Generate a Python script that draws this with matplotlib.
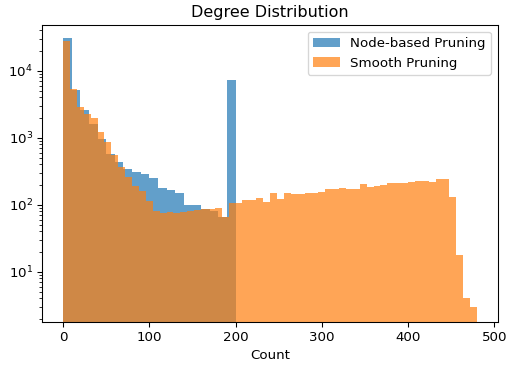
import numpy as np
import matplotlib
matplotlib.use("Agg")
import matplotlib.pyplot as plt

# Node-based pruning: bins of width 10 from 0 to 200
node_bin_edges = np.arange(0, 201, 10)
node_counts = [31000, 5200, 2600, 1600, 950, 580, 430, 340, 310, 290,
               255, 176, 166, 148, 100, 100, 88, 82, 65, 7400]

# Smooth pruning: bins of width 8 from 0 to 480
smooth_bin_edges = np.arange(0, 481, 8)
smooth_counts = [28000, 5400, 2900, 2300, 2000, 1200, 850, 560, 370, 260,
                 190, 160, 112, 82, 76, 77, 75, 78, 82, 83,
                 86, 88, 90, 66, 105, 105, 116, 116, 126, 111,
                 148, 122, 148, 143, 143, 152, 152, 155, 170, 170,
                 176, 170, 170, 204, 182, 190, 200, 215, 212, 208,
                 218, 225, 225, 218, 245, 245, 131, 18, 4, 3]

DPI = 96
fig = plt.figure(figsize=(506 / DPI, 368 / DPI), dpi=DPI)
ax = fig.add_axes([0.0836, 0.1258, 0.900, 0.806])

ax.hist(node_bin_edges[:-1], bins=node_bin_edges, weights=node_counts,
        alpha=0.7, log=True, label="Node-based Pruning")
ax.hist(smooth_bin_edges[:-1], bins=smooth_bin_edges, weights=smooth_counts,
        alpha=0.7, log=True, label="Smooth Pruning")

ax.set_xlim(-24, 504)
ax.set_ylim(1.8, 48000)
ax.set_title("Degree Distribution")
ax.set_xlabel("Count")
ax.legend(loc="upper right")

fig.savefig("out.png", dpi=DPI)
